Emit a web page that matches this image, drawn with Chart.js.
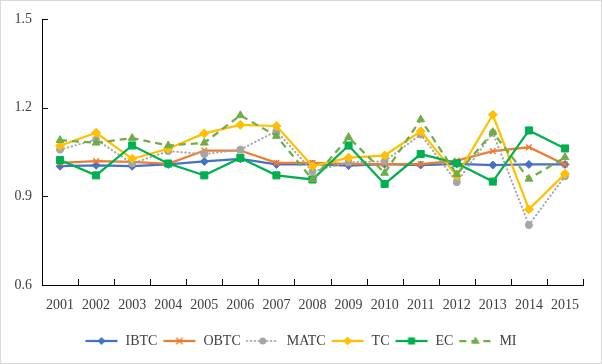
<!DOCTYPE html>
<html><head><meta charset="utf-8">
<script src="https://cdn.jsdelivr.net/npm/chart.js@4"></script>
<style>html,body{margin:0;padding:0;background:#fff}canvas{display:block}</style>
</head><body>
<canvas id="c" width="602" height="364"></canvas>
<script>
const years = ['2001','2002','2003','2004','2005','2006','2007','2008','2009','2010','2011','2012','2013','2014','2015'];
const IBTC = [1.002,1.005,1.002,1.008,1.018,1.027,1.008,1.009,1.004,1.009,1.006,1.010,1.006,1.008,1.008];
const OBTC = [1.013,1.019,1.017,1.010,1.055,1.055,1.013,1.013,1.010,1.009,1.009,1.021,1.053,1.066,1.008];
const MATC = [1.058,1.092,1.011,1.053,1.043,1.058,1.121,0.985,1.015,1.019,1.109,0.948,1.115,0.803,0.968];
const TC   = [1.071,1.115,1.027,1.061,1.113,1.142,1.138,1.002,1.031,1.038,1.120,0.970,1.176,0.856,0.976];
const EC   = [1.023,0.971,1.072,1.011,0.971,1.030,0.971,0.957,1.072,0.942,1.043,1.012,0.950,1.123,1.062];
const MI   = [1.090,1.081,1.097,1.072,1.081,1.174,1.104,0.957,1.100,0.979,1.160,0.974,1.117,0.959,1.032];
const yTicks = [0.6, 0.9, 1.2, 1.5];

const series = [
  {label:'IBTC', data:IBTC, color:'#4472C4', point:'rectRot', r:4, dash:[]},
  {label:'OBTC', data:OBTC, color:'#ED7D31', point:'crossRot', r:4, dash:[]},
  {label:'MATC', data:MATC, color:'#A5A5A5', point:'circle', r:3.5, dash:[0.5,3.5]},
  {label:'TC',   data:TC,   color:'#FFC000', point:'rectRot', r:4.5, dash:[]},
  {label:'EC',   data:EC,   color:'#00B050', point:'rect', r:5, dash:[]},
  {label:'MI',   data:MI,   color:'#70AD47', point:'triangle', r:4.5, dash:[7,5]}
];

function drawMarker(ctx, s, x, y){
  const r = s.r;
  ctx.fillStyle = s.color; ctx.strokeStyle = s.color; ctx.setLineDash([]);
  ctx.beginPath();
  if (s.point === 'rectRot'){
    const d = r;
    ctx.moveTo(x, y-d); ctx.lineTo(x+d, y); ctx.lineTo(x, y+d); ctx.lineTo(x-d, y); ctx.closePath(); ctx.fill();
  } else if (s.point === 'crossRot'){
    const d = r*0.8; ctx.lineWidth = 1.5;
    ctx.moveTo(x-d,y-d); ctx.lineTo(x+d,y+d); ctx.moveTo(x+d,y-d); ctx.lineTo(x-d,y+d); ctx.stroke();
  } else if (s.point === 'circle'){
    ctx.arc(x, y, r, 0, Math.PI*2); ctx.fill();
  } else if (s.point === 'rect'){
    const d = r*Math.SQRT1_2; ctx.rect(x-d, y-d, 2*d, 2*d); ctx.fill();
  } else if (s.point === 'triangle'){
    const w = r*1.3;
    ctx.moveTo(x, y - r); ctx.lineTo(x + w*0.75, y + r*0.6); ctx.lineTo(x - w*0.75, y + r*0.6); ctx.closePath(); ctx.fill();
  }
}

function makeIcon(s){
  const cv = document.createElement('canvas');
  cv.width = 34; cv.height = 14;
  const ctx = cv.getContext('2d');
  ctx.strokeStyle = s.color; ctx.lineWidth = s.point === 'circle' ? 2 : 2.25;
  ctx.lineCap = s.point === 'circle' ? 'round' : 'butt';
  ctx.setLineDash(s.dash);
  ctx.beginPath(); ctx.moveTo(1, 7); ctx.lineTo(33, 7); ctx.stroke();
  drawMarker(ctx, s, 17, 7);
  return cv;
}
const icons = series.map(makeIcon);

const deco = {
  id: 'deco',
  afterLayout(chart){
    if (chart.legend){ chart.legend.left += 9; chart.legend.right += 9; }
  },
  beforeDraw(chart){
    const c = chart.ctx; c.save();
    c.fillStyle = '#fff'; c.fillRect(0, 0, chart.width, chart.height);
    c.strokeStyle = '#d9d9d9'; c.lineWidth = 1;
    c.strokeRect(0.5, 0.5, chart.width - 1, chart.height - 1);
    c.restore();
  },
  beforeDatasetsDraw(chart){
    const xs = chart.scales.x, ys = chart.scales.y, c = chart.ctx;
    const step = xs.getPixelForValue(1) - xs.getPixelForValue(0);
    const x0 = xs.getPixelForValue(0) - step/2;
    c.save(); c.strokeStyle = '#000'; c.lineWidth = 1; c.beginPath();
    for (let i = 1; i <= years.length; i++){
      const x = Math.round(x0 + i*step) + 0.5;
      c.moveTo(x, xs.top); c.lineTo(x, xs.top - 6);
    }
    const ax = Math.round(ys.right);
    yTicks.forEach(v => {
      const y = Math.round(ys.getPixelForValue(v)) + 0.5;
      c.moveTo(ax, y); c.lineTo(ax + 6, y);
    });
    c.stroke(); c.restore();
  }
};

Chart.defaults.font.family = "'Liberation Serif','Times New Roman',serif";
Chart.defaults.font.size = 14;
Chart.defaults.color = '#404040';

new Chart(document.getElementById('c'), {
  type: 'line',
  data: {
    labels: years,
    datasets: series.map((s, i) => ({
      label: s.label, data: s.data,
      borderColor: s.color, backgroundColor: s.color,
      borderWidth: s.point === 'circle' ? 2 : 2.25,
      borderDash: s.dash,
      borderCapStyle: s.point === 'circle' ? 'round' : 'butt',
      pointStyle: s.point, pointRadius: s.r,
      pointBackgroundColor: s.color, pointBorderColor: s.color,
      pointBorderWidth: s.point === 'crossRot' ? 1.5 : 1,
      tension: 0, fill: false,
      order: series.length - i
    }))
  },
  options: {
    responsive: false, animation: false,
    layout: { padding: { left: 0, right: 19, top: 19, bottom: 6 } },
    plugins: {
      tooltip: { enabled: false },
      legend: {
        position: 'bottom',
        labels: {
          usePointStyle: true, pointStyleWidth: 34, padding: 5,
          color: '#404040',
          generateLabels: (chart) => series.map((s, i) => ({
            text: s.label, pointStyle: icons[i], datasetIndex: i,
            fillStyle: s.color, strokeStyle: s.color, lineWidth: 0,
            hidden: false, fontColor: '#404040'
          }))
        }
      }
    },
    scales: {
      x: {
        offset: true,
        grid: { display: false, drawTicks: false },
        border: { display: true, color: '#000', width: 1 },
        ticks: { padding: 12, maxRotation: 0, autoSkip: false },
        afterFit: (s) => { s.height = 44; }
      },
      y: {
        min: 0.6, max: 1.5,
        afterBuildTicks: (s) => { s.ticks = yTicks.map(v => ({ value: v })); },
        grid: { display: false, drawTicks: false },
        border: { display: true, color: '#000', width: 1 },
        ticks: { padding: 10, callback: (v) => Number(v).toFixed(1) },
        afterFit: (s) => { s.width = 42; }
      }
    }
  },
  plugins: [deco]
});
</script>
</body></html>
